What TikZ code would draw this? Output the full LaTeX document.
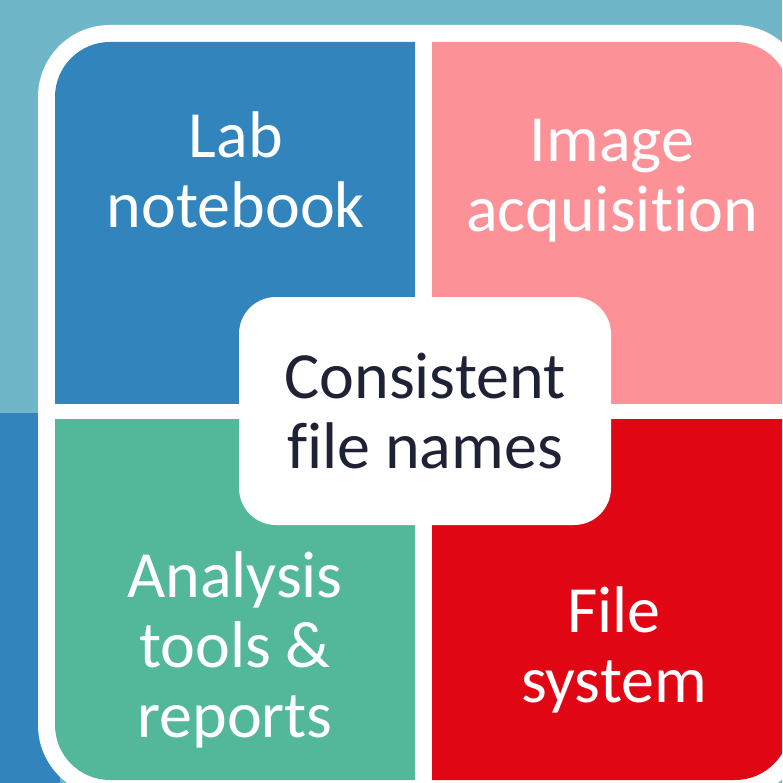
\documentclass[tikz,border=0pt]{standalone}
\usepackage{fontspec}
\setmainfont{Carlito}[Ligatures=NoCommon]
\definecolor{fnteal}{RGB}{111,183,200}
\definecolor{fnblue}{RGB}{50,132,188}
\definecolor{fnpink}{RGB}{252,146,152}
\definecolor{fngreen}{RGB}{82,184,153}
\definecolor{fnred}{RGB}{225,6,19}
\definecolor{fndark}{RGB}{31,34,53}

\begin{document}
\begin{tikzpicture}[
    x=1pt,y=-1pt,
    font=\fontsize{66pt}{70pt}\selectfont,
    label/.style={inner sep=0pt,align=center,text=white},
    hubbox/.style={fill=white,rounded corners=37pt,minimum width=372pt,minimum height=228pt,align=center,text=fndark,inner sep=0pt}
  ]
    \useasboundingbox (0,0) rectangle (782,783);
    \clip (0,0) rectangle (782,783);
    % background
    \fill[fnteal] (0,0) rectangle (782,783);
    \fill[fnblue] (0,413) rectangle (60,783);
    \fill[white,rounded corners=72pt] (38,25) rectangle (807,797);
    % quadrants
    \begin{scope}
      \clip (55,42) rectangle (415,403);
      \fill[fnblue,rounded corners=55pt] (55,42) rectangle (500,500);
    \end{scope}
    \begin{scope}
      \clip (432,42) rectangle (790,403);
      \fill[fnpink,rounded corners=55pt] (350,42) rectangle (790,500);
    \end{scope}
    \begin{scope}
      \clip (55,419) rectangle (415,780);
      \fill[fngreen,rounded corners=55pt] (55,330) rectangle (500,780);
    \end{scope}
    \begin{scope}
      \clip (432,419) rectangle (790,780);
      \fill[fnred,rounded corners=55pt] (350,330) rectangle (790,780);
    \end{scope}
    % labels
    \node[label] (lab) at (236,170) {Lab\\notebook};
    \node[label] (image) at (612,181) {Image\\acquisition};
    \node[label] (analysis) at (235,650) {Analysis\\tools \&\\reports};
    \node[label] (filesys) at (614,650) {File\\system};
    \node[hubbox] (hub) at (425,411) {Consistent\\file names};
  \end{tikzpicture}
\end{document}
